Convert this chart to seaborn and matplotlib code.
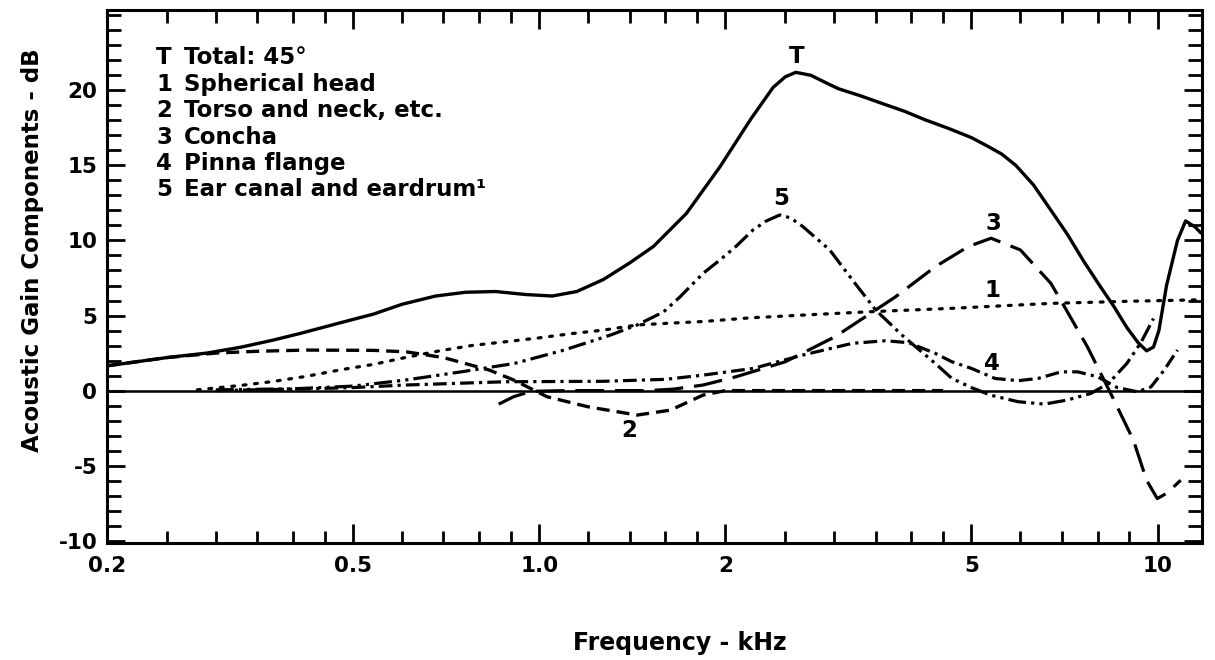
import matplotlib
matplotlib.use("Agg")
import matplotlib.pyplot as plt
import seaborn as sns
from matplotlib.ticker import FixedLocator, FixedFormatter, NullFormatter

# ---------------- data ----------------
freq_T = [0.2, 0.25, 0.29, 0.33, 0.37, 0.41, 0.475, 0.54, 0.6, 0.68, 0.76, 0.85,
          0.95, 1.05, 1.15, 1.27, 1.4, 1.53, 1.73, 1.96, 2.2, 2.39, 2.5, 2.6,
          2.75, 2.91, 3.05, 3.3, 3.6, 3.9, 4.2, 4.6, 5.0, 5.3, 5.6, 5.9, 6.3,
          6.7, 7.15, 7.6, 8.09, 8.5, 8.92, 9.3, 9.6, 9.85, 10.05, 10.34, 10.77,
          11.1, 11.5, 11.75]
gain_T = [1.65, 2.2, 2.5, 2.9, 3.35, 3.8, 4.5, 5.1, 5.75, 6.3, 6.55, 6.6,
          6.4, 6.3, 6.6, 7.4, 8.5, 9.6, 11.8, 14.9, 18.1, 20.2, 20.9, 21.2,
          21.0, 20.5, 20.1, 19.65, 19.1, 18.6, 18.05, 17.45, 16.85, 16.3, 15.75, 15.0, 13.7,
          12.1, 10.4, 8.6, 6.9, 5.6, 4.2, 3.2, 2.65, 2.9, 4.0, 7.0, 10.0,
          11.3, 10.9, 10.5]

freq_1 = [0.28, 0.33, 0.37, 0.42, 0.475, 0.54, 0.607, 0.69, 0.777, 0.88, 0.994,
          1.13, 1.27, 1.44, 1.64, 1.84, 2.2, 2.67, 3.41, 4.65, 6.72, 9.0, 11.75]
gain_1 = [0.05, 0.35, 0.6, 0.95, 1.37, 1.75, 2.2, 2.65, 3.0, 3.25, 3.5,
          3.8, 4.03, 4.37, 4.5, 4.6, 4.85, 5.03, 5.25, 5.48, 5.81, 5.95, 6.05]

freq_2 = [0.2, 0.25, 0.3, 0.35, 0.42, 0.54, 0.61, 0.7, 0.83, 0.91, 1.03, 1.2,
          1.44, 1.63, 1.84, 2.0, 3.0, 4.5]
gain_2 = [1.65, 2.2, 2.5, 2.62, 2.7, 2.68, 2.58, 2.2, 1.37, 0.7, -0.41, -1.08,
          -1.63, -1.3, -0.3, 0.0, 0.0, 0.0]

freq_3 = [0.86, 0.91, 0.97, 1.1, 1.5, 1.65, 1.84, 2.08, 2.5, 3.01, 3.5, 3.77,
          4.37, 4.94, 5.38, 6.0, 6.72, 7.07, 7.7, 8.4, 9.14, 9.6, 9.99, 10.34, 10.9]
gain_3 = [-0.9, -0.4, -0.05, 0.0, 0.0, 0.1, 0.37, 0.92, 1.92, 3.59, 5.37, 6.25,
          8.25, 9.59, 10.15, 9.37, 7.15, 5.59, 2.92, -0.19, -3.3, -5.97, -7.19, -6.85, -5.97]

freq_4 = [0.3, 0.4, 0.5, 0.607, 0.88, 1.27, 1.6, 1.84, 2.22, 2.67, 3.21, 3.63,
          3.96, 4.37, 4.65, 5.0, 5.46, 5.95, 6.41, 6.98, 7.43, 8.0, 8.61, 9.28,
          9.76, 10.25, 10.77]
gain_4 = [0.0, 0.1, 0.2, 0.37, 0.59, 0.62, 0.75, 1.03, 1.48, 2.37, 3.15, 3.32,
          3.19, 2.48, 1.92, 1.48, 0.81, 0.66, 0.81, 1.25, 1.25, 0.92, 0.2, -0.08,
          0.25, 1.37, 2.7]

freq_5 = [0.3, 0.4, 0.5, 0.607, 0.748, 0.912, 1.097, 1.304, 1.44, 1.59, 1.69,
          1.84, 1.96, 2.08, 2.217, 2.33, 2.45, 2.55, 2.67, 2.95, 3.21, 3.37, 3.5,
          3.86, 4.37, 4.65, 5.0, 5.37, 5.95, 6.56, 7.14, 7.8, 8.33, 8.92, 9.4, 9.85]
gain_5 = [0.05, 0.12, 0.3, 0.7, 1.25, 1.81, 2.7, 3.7, 4.37, 5.25, 6.25,
          7.8, 8.7, 9.6, 10.7, 11.3, 11.7, 11.5, 10.92, 9.37, 7.37, 6.25, 5.37,
          3.7, 1.81, 0.81, 0.2, -0.3, -0.74, -0.9, -0.63, -0.19, 0.48, 1.81, 3.2, 4.8]

legend_keys = ["T", "1", "2", "3", "4", "5"]
legend_texts = ["Total: 45°", "Spherical head", "Torso and neck, etc.",
                "Concha", "Pinna flange", "Ear canal and eardrum\u00b9"]

curve_labels = ["T", "5", "3", "1", "2", "4"]
label_freq = [2.61, 2.46, 5.42, 5.40, 1.40, 5.40]
label_gain = [22.25, 12.8, 11.15, 6.7, -2.63, 1.81]

x_major = [0.2, 0.5, 1.0, 2.0, 5.0, 10.0]
x_major_labels = ["0.2", "0.5", "1.0", "2", "5", "10"]
x_minor = [0.25, 0.3, 0.35, 0.4, 0.45, 0.6, 0.7, 0.8, 0.9, 1.2, 1.4, 1.6, 1.8,
           2.5, 3.0, 3.5, 4.0, 4.5, 6.0, 7.0, 8.0, 9.0]
y_major = [-10, -5, 0, 5, 10, 15, 20]
y_major_labels = ["-10", "-5", "0", "5", "10", "15", "20"]

# ---------------- styling ----------------
sns.set_style("ticks")
plt.rcParams['font.family'] = ['DejaVu Sans']
plt.rcParams['font.weight'] = 'bold'
plt.rcParams['text.color'] = 'black'
plt.rcParams['axes.labelcolor'] = 'black'

W, H = 1215, 660
fig = plt.figure(figsize=(W / 100, H / 100), dpi=100)
fig.patch.set_facecolor("white")
ax = fig.add_axes([107 / W, 1 - 543 / H, (1202 - 107) / W, (543 - 10) / H])
ax.set_facecolor("white")
ax.set_xscale("log")

styles = {
    "T": ("-", 2.4),
    "1": ((0, (0.9, 2.7)), 2.3),
    "2": ((0, (3.9, 2.1)), 2.4),
    "3": ((0, (9.0, 3.4)), 2.3),
    "4": ((0, (4.3, 1.6, 1.0, 1.6)), 2.3),
    "5": ((0, (5.6, 1.6, 1.0, 1.6, 1.0, 1.6)), 2.3),
}
series = [("T", freq_T, gain_T), ("1", freq_1, gain_1), ("2", freq_2, gain_2),
          ("3", freq_3, gain_3), ("4", freq_4, gain_4), ("5", freq_5, gain_5)]

ax.axhline(0, color="black", lw=1.8, zorder=1)
for key, fx, gy in series:
    ls, w = styles[key]
    sns.lineplot(x=fx, y=gy, ax=ax, color="black", linestyle=ls, linewidth=w,
                 sort=False, estimator=None, legend=False,
                 dash_capstyle="round" if key == "1" else "butt",
                 solid_joinstyle="round", zorder=3)

ax.set_xlim(0.2, 11.8)
ax.set_ylim(-10.15, 25.35)

ax.xaxis.set_major_locator(FixedLocator(x_major))
ax.xaxis.set_major_formatter(FixedFormatter(x_major_labels))
ax.xaxis.set_minor_locator(FixedLocator(x_minor))
ax.xaxis.set_minor_formatter(NullFormatter())
ax.yaxis.set_major_locator(FixedLocator(y_major))
ax.yaxis.set_major_formatter(FixedFormatter(y_major_labels))
ax.yaxis.set_minor_locator(FixedLocator(list(range(-10, 26))))

for s in ax.spines.values():
    s.set_visible(True)
    s.set_linewidth(2.2)
    s.set_color("black")

ax.tick_params(axis="both", which="both", direction="in", top=True, right=True,
               colors="black", width=2.0)
ax.tick_params(axis="x", which="major", length=14, pad=9, labelsize=15.5)
ax.tick_params(axis="x", which="minor", length=9)
ax.tick_params(axis="y", which="major", length=13, pad=7, labelsize=15.5)
ax.tick_params(axis="y", which="minor", length=10)
for t in ax.get_xticklabels() + ax.get_yticklabels():
    t.set_fontweight("bold")

ax.set_xlabel("")
ax.set_ylabel("")
fig.text(33 / W, 1 - 250 / H, "Acoustic Gain Components - dB", rotation=90,
         ha="center", va="center", fontsize=16.5, fontweight="bold", color="black")
fig.text(680 / W, 1 - 643 / H, "Frequency - kHz", ha="center", va="center",
         fontsize=17, fontweight="bold", color="black")

# legend block
rows_y = [58, 84.4, 110.8, 137.2, 163.6, 190]
for k, t, yy in zip(legend_keys, legend_texts, rows_y):
    fig.text(164 / W, 1 - yy / H, k, ha="center", va="center", fontsize=16.5,
             fontweight="bold", color="black")
    fig.text(184 / W, 1 - yy / H, t, ha="left", va="center", fontsize=16.5,
             fontweight="bold", color="black")

for lab, fx, gy in zip(curve_labels, label_freq, label_gain):
    ax.text(fx, gy, lab, ha="center", va="center", fontsize=16.5,
            fontweight="bold", color="black")

fig.savefig("out.png", dpi=100, facecolor="white")
